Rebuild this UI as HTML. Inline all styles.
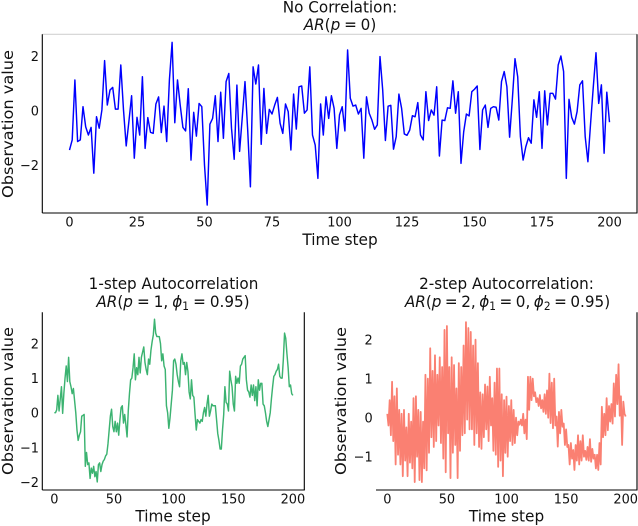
<!DOCTYPE html>
<html lang="en">
<head>
<meta charset="utf-8">
<title>Autocorrelation time series</title>
<style>
html,body{margin:0;padding:0;background:#fff;width:638px;height:526px;overflow:hidden}
svg{display:block}
text{font-family:"DejaVu Sans","Liberation Sans",sans-serif;fill:#111}
</style>
</head>
<body>
<svg id="figure" xmlns="http://www.w3.org/2000/svg" width="638" height="526" viewBox="0 0 638 526">
  <rect x="0" y="0" width="638" height="526" fill="#fff"/>

  <g text-anchor="middle" font-size="15.2">
    <text transform="translate(340,12.5) scale(1,1.06)">No Correlation:</text>
    <text word-spacing="-1" transform="translate(340,30) scale(1,1.06)"><tspan font-style="italic">AR</tspan>(<tspan font-style="italic">p</tspan> = 0)</text>
  </g>
  <g text-anchor="middle" font-size="15.2">
    <text transform="translate(173.5,289) scale(1,1.06)">1-step Autocorrelation</text>
    <text word-spacing="-0.8" transform="translate(173,307) scale(1,1.06)"><tspan font-style="italic">AR</tspan>(<tspan font-style="italic">p</tspan> = 1, <tspan font-style="italic">ϕ</tspan><tspan font-size="10.6" dy="3">1</tspan><tspan dy="-3"> = 0.95)</tspan></text>
  </g>
  <g text-anchor="middle" font-size="15.2">
    <text transform="translate(506.5,289) scale(1,1.06)">2-step Autocorrelation:</text>
    <text word-spacing="-1.3" transform="translate(507.5,307) scale(1,1.06)"><tspan font-style="italic">AR</tspan>(<tspan font-style="italic">p</tspan> = 2, <tspan font-style="italic">ϕ</tspan><tspan font-size="10.6" dy="3">1</tspan><tspan dy="-3"> = 0, </tspan><tspan font-style="italic">ϕ</tspan><tspan font-size="10.6" dy="3">2</tspan><tspan dy="-3"> = 0.95)</tspan></text>
  </g>
</svg>
<script>
// ---------- chart data ----------
const topXTicks = [0, 25, 50, 75, 100, 125, 150, 175, 200];
const topYTicks = [-2, 0, 2];
const leftXTicks = [0, 50, 100, 150, 200];
const leftYTicks = [-2, -1, 0, 1, 2];
const rightXTicks = [0, 50, 100, 150, 200];
const rightYTicks = [-1, 0, 1, 2];

const noCorrelationValues = [
-1.45,-1.08,1.12,-1.14,-1.08,.14,-.6,-.9,-.62,-2.3,
-.23,-.65,.02,1.83,.2,.75,.85,.05,.05,1.67,
.02,-1.3,-.4,.54,-1.75,-.25,-.9,1.24,-1.39,-.26,
-.8,-.84,.24,.5,-.81,.16,-1.14,1.12,2.5,-.45,
1.12,.2,-.62,-.75,.8,-1.82,-.07,-.94,.26,.14,
-2.0,-3.47,-.5,-.29,.54,-1.14,.67,-1.02,1.06,1.36,
-.65,-1.79,.93,-1.5,-.23,1.06,-.72,-2.8,1.6,.97,
1.67,-1.24,.81,-.84,.04,-.13,.2,.48,-.47,-.84,
.24,-.04,-1.45,.6,-.68,.87,.9,-.1,.02,1.6,
-.9,-1.27,-2.49,.24,-.9,.5,-.29,.54,.08,-1.39,
-.16,.14,-.75,2.22,.45,.16,.2,-.13,.08,-1.75,
.5,-.1,-.35,-.69,-.53,1.98,.75,-1.1,.16,.19,
-1.42,-.96,.6,.08,-.86,-.91,-.72,-.19,-.23,.29,
-.9,-1.08,.69,-.37,.02,-.17,.87,-1.67,-.35,-.37,
.1,.08,1.09,-.1,.69,-1.94,-.78,-.13,-.2,.69,
.78,.9,-1.43,.02,.2,-.62,.08,.14,.12,-.35,
1.06,1.43,.87,-.98,.39,1.9,1.24,-.96,-1.82,-1.33,
-1.0,-1.2,.39,-.25,.69,-1.39,.72,-.53,.63,.63,
.42,1.67,2.0,1.43,-2.49,.41,-.25,-.5,-.04,.94,
1.09,-.96,-1.88,-.47,.87,2.12,.26,.94,-1.57,.67,
-.43];

const oneStepValues = [
0,0,.08,.5,.05,.4,.75,-.02,.55,1.0,
1.35,.9,1.6,.9,.75,.55,.7,.35,0,-.5,
-.8,-.65,-.55,-.1,-.08,-.05,-1.55,-1.15,-1.5,-1.45,
-1.9,-1.6,-1.75,-1.55,-1.85,-1.7,-2.0,-1.5,-1.45,-1.7,
-1.5,-1.4,-1.35,-1.25,-1.2,-.9,-.5,-.1,.1,-.4,
-.55,-.25,-.55,-.3,-.65,-.2,.15,.2,-.3,-.05,
-.35,-.7,.05,.55,.95,1.0,1.3,1.7,.95,1.3,
1.1,1.6,1.15,1.6,1.75,1.9,1.45,1.25,1.1,1.55,
1.4,1.8,2.05,2.25,2.7,2.3,2.2,2.2,2.2,2.0,
1.5,1.7,1.35,1.25,.2,0,-.45,-.15,.25,.65,
1.5,1.55,1.4,1.1,.9,.75,1.5,1.7,1.4,1.45,
1.1,1.45,1.2,.6,.4,.95,.5,.45,-.05,-.5,
-.2,-.25,-.3,-.2,-.25,0,.15,-.1,.25,.5,
-.1,.05,.25,.2,.2,.2,-.2,-.6,-.8,-1.05,
-1.05,-.5,-.05,.75,.3,.25,.05,1.2,.95,.75,
.25,.05,1.05,.85,1.0,.85,1.35,1.4,1.55,1.6,
1.65,.95,.65,.6,.45,.8,.5,.8,.35,.75,
.2,.95,.65,.85,.85,.25,.2,0,-.25,-.4,
-.2,0,.4,.75,1.05,1.1,1.2,1.25,1.4,1.05,
1.0,1.0,1.55,2.3,2.15,1.7,1.3,.75,.8,.55,
.5];

const twoStepValues = [
.1,-.2,.45,-.45,.92,-.6,.55,-1.2,.75,-.95,
.2,-1.2,.1,-1.5,.2,-1.1,-.25,-1.5,.1,-1.15,
-.1,-1.3,.5,-1.65,.55,-1.0,.2,-1.6,.15,-1.65,
-.1,-1.3,1.1,-1.35,1.0,-.9,1.78,-.5,1.2,-.75,
1.6,-.6,1.1,-.2,1.55,-.65,1.3,-1.05,2.25,-1.4,
2.35,-.4,1.3,-1.55,1.55,-.9,1.35,-.7,.75,-1.55,
1.4,-.85,1.3,-.45,1.85,-.4,2.45,-.05,2.3,-.3,
2.2,-.3,1.85,-.7,2.0,-.4,1.4,-.75,.65,-.8,
.6,-.5,.85,-.3,.8,-.6,1.05,-.2,.5,-.85,
.9,-.95,1.26,-1.26,1.26,-1.1,.6,-1.5,.45,-.9,
.54,-1.0,.3,-.6,.45,-.7,.2,-.65,0,-.45,
-.1,-.18,-.05,-.2,.1,-.4,-.05,-.55,1.05,.2,
1.05,.45,1.0,.55,.65,.4,.5,.3,.58,.24,
.45,.15,.6,.1,.7,0,1.13,-.14,.9,-.27,
1.0,-.2,.03,-.74,.15,-.4,.2,-.23,-.15,-.7,
-.3,-.75,-.7,-1.2,-.65,-1.05,-.83,-1.34,-.7,-1.1,
-.45,-1.2,-.6,-1.1,-.45,-1.0,-.85,-1.08,-.75,-1.1,
-.55,-1.13,-.8,-1.05,-.95,-1.3,-.95,-1.34,-.65,-1.2,
.28,-.5,.1,-.45,.5,-.32,.3,-.1,.35,-.15,
.88,.03,1.1,.35,1.37,.05,.55,-.7,.41,.1,
.03];

// ---------- axis functions ----------
const topX = t => 69.5 + 2.7 * t;
const topY = v => 110.5 - 27.25 * v;
const leftX = t => 54.3 + 1.193 * t;
const leftY = v => 412.7 - 34.6 * v;
const rightX = t => 387.3 + 1.192 * t;
const rightY = v => 417.7 - 39 * v;

const svgNS = 'http://www.w3.org/2000/svg';
const figure = document.getElementById('figure');

function make(tag, parent, attrs) {
  const el = document.createElementNS(svgNS, tag);
  for (const k in attrs) el.setAttribute(k, attrs[k]);
  parent.appendChild(el);
  return el;
}

function fmt(v) {
  return v < 0 ? '\u2212' + Math.abs(v) : String(v);
}

function drawPanel(p) {
  const group = make('g', figure, {});
  
  

  // series line
  const d = p.values.map((v, i) => (i ? 'L' : 'M') + p.x(i).toFixed(2) + ' ' + p.y(v).toFixed(2)).join('');
  const line = make('path', group, { d: d, fill: 'none', stroke: p.color, 'stroke-width': p.width, 'stroke-linejoin': 'round' });
  
  

  // spines
  p.spines.forEach(function (s) {
    const spine = make('line', group, { x1: s[1], y1: s[2], x2: s[3], y2: s[4], stroke: s[5], 'stroke-width': 1.1 });
    
    
  });

  // x tick labels
  p.xTicks.forEach(function (t) {
    const lab = make('text', group, { transform: 'translate(' + p.x(t) + ',' + p.xTickY + ') scale(1,1.06)', 'text-anchor': 'middle', 'font-size': 12.9 });
    lab.textContent = fmt(t);
    
    
  });

  // y tick labels
  p.yTicks.forEach(function (t) {
    const lab = make('text', group, { transform: 'translate(' + p.yTickX + ',' + (p.y(t) + 5) + ') scale(1,1.06)', 'text-anchor': 'end', 'font-size': 12.9 });
    lab.textContent = fmt(t);
    
    
  });

  // axis titles
  const xt = make('text', group, { transform: 'translate(' + p.xTitleX + ',' + p.xTitleY + ') scale(1,1.06)', 'text-anchor': 'middle', 'font-size': 15.3 });
  xt.textContent = 'Time step';
  
  

  const yt = make('text', group, { transform: 'translate(' + p.yTitleX + ',' + p.yTitleY + ') rotate(-90) scale(1.06,1)', 'text-anchor': 'middle', 'font-size': 15.3 });
  yt.textContent = 'Observation value';
  
  
}

drawPanel({
  name: 'no-correlation', values: noCorrelationValues, x: topX, y: topY, color: '#0000ff', width: 1.45,
  xTicks: topXTicks, yTicks: topYTicks, xTickY: 226.7, yTickX: 39,
  xTitleX: 340, xTitleY: 245, yTitleX: 13, yTitleY: 124,
  spines: [['top', 42.3, 34.3, 637, 34.3, '#d3d3d3'], ['left', 42.3, 34.3, 42.3, 213, '#000'], ['bottom', 42.3, 213, 637.5, 213, '#000'], ['right', 637, 34.3, 637, 213, '#000']]
});
drawPanel({
  name: 'one-step', values: oneStepValues, x: leftX, y: leftY, color: '#3cb371', width: 1.45,
  xTicks: leftXTicks, yTicks: leftYTicks, xTickY: 503.3, yTickX: 39,
  xTitleX: 173, xTitleY: 521.7, yTitleX: 13, yTitleY: 401,
  spines: [['left', 42.3, 312.3, 42.3, 490, '#000'], ['bottom', 42.3, 490, 304.8, 490, '#000'], ['right', 304.3, 312.3, 304.3, 490, '#000']]
});
drawPanel({
  name: 'two-step', values: twoStepValues, x: rightX, y: rightY, color: '#fa8072', width: 1.8,
  xTicks: rightXTicks, yTicks: rightYTicks, xTickY: 503.3, yTickX: 372.7,
  xTitleX: 506.5, xTitleY: 521.7, yTitleX: 346, yTitleY: 401,
  spines: [['bottom', 376, 490, 637.5, 490, '#000'], ['right', 637, 312.3, 637, 490, '#000']]
});
</script>
</body>
</html>
